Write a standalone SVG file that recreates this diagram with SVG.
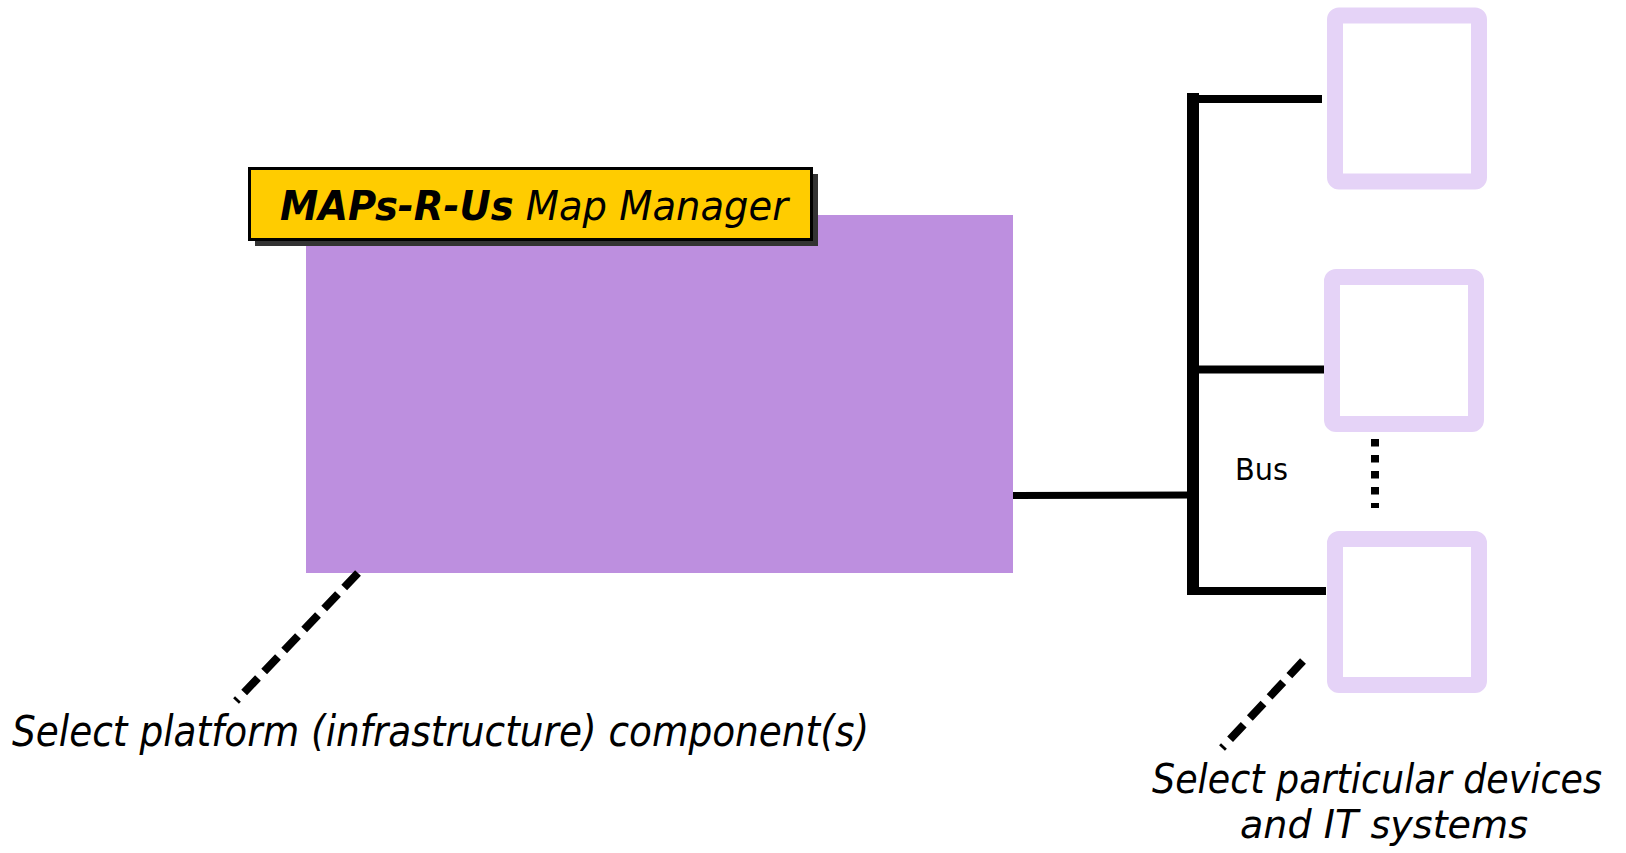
<svg xmlns="http://www.w3.org/2000/svg" width="1626" height="853" viewBox="0 0 1626 853">
<style>
.dev{fill:#ffffff;stroke:#E5D3F7;stroke-width:16}
.wire{stroke:#000;fill:none;stroke-width:8}
.ital{font-family:"DejaVu Sans","Liberation Sans",sans-serif;font-style:italic;fill:#000}
.dash{stroke:#000;stroke-width:8;stroke-dasharray:20 9;fill:none}
</style>
<rect width="1626" height="853" fill="#ffffff"/>
<g id="platform">
<rect x="306" y="215" width="707" height="358" fill="#BD8FDF"/>
</g>
<g id="title">
<rect x="255" y="174" width="563" height="72" fill="#333333"/>
<rect x="249.5" y="168.5" width="562" height="71" fill="#FFCC00" stroke="#000" stroke-width="3"/>
<text x="280" y="220" font-size="40" class="ital" textLength="508" lengthAdjust="spacingAndGlyphs"><tspan font-weight="bold">MAPs-R-Us</tspan> Map Manager</text>
</g>
<g id="device1"><rect class="dev" x="1335" y="15.5" width="144" height="166" rx="4"/></g>
<g id="device2"><rect class="dev" x="1332" y="277" width="144" height="147" rx="4"/></g>
<g id="device3"><rect class="dev" x="1335" y="539" width="144" height="146" rx="4"/></g>
<g id="connectors">
<line x1="1193" y1="93" x2="1193" y2="595" stroke="#000" stroke-width="12"/>
<line class="wire" x1="1193" y1="99" x2="1322" y2="99"/>
<line class="wire" x1="1193" y1="369.5" x2="1324" y2="369.5"/>
<line class="wire" x1="1193" y1="591" x2="1326" y2="591"/>
<line x1="1013" y1="495.5" x2="1193" y2="495" stroke="#000" stroke-width="7"/>
<line x1="1375" y1="439" x2="1375" y2="508" stroke="#000" stroke-width="8" stroke-dasharray="7.5 8.5"/>
<line class="dash" x1="358" y1="573" x2="236" y2="701"/>
<line class="dash" x1="1303" y1="661" x2="1222" y2="748"/>
</g>
<g id="labels">
<text x="1235" y="480" font-size="31" font-family="DejaVu Sans, Liberation Sans, sans-serif" textLength="53" lengthAdjust="spacingAndGlyphs">Bus</text>
<text x="12" y="746" font-size="42" class="ital" textLength="857" lengthAdjust="spacingAndGlyphs">Select platform (infrastructure) component(s)</text>
<text x="1152" y="793" font-size="41" class="ital" textLength="450" lengthAdjust="spacingAndGlyphs">Select particular devices</text>
<text x="1240" y="838" font-size="39" class="ital" textLength="288" lengthAdjust="spacingAndGlyphs">and IT systems</text>
</g>
</svg>
